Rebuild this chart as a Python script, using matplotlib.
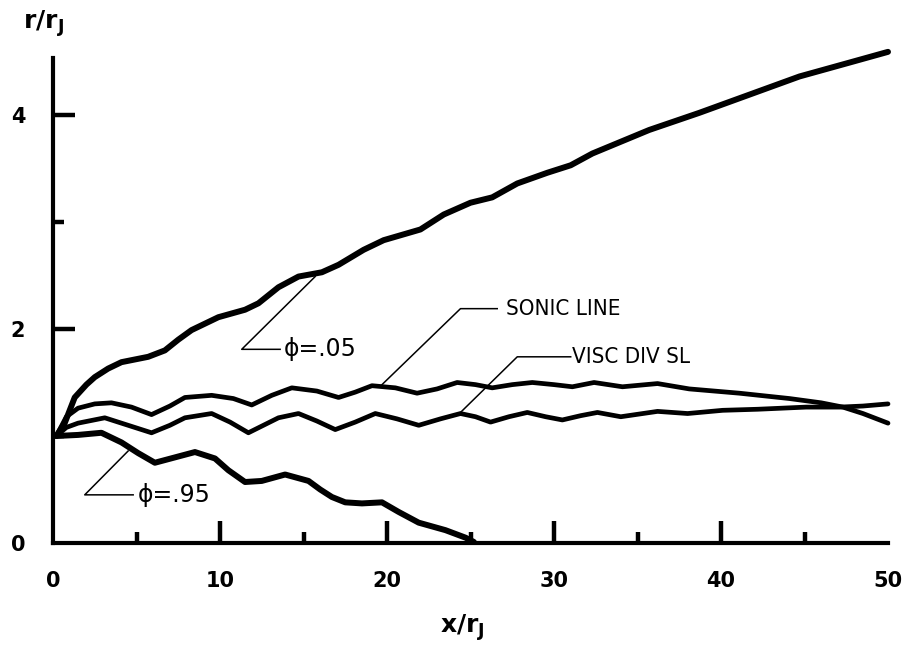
import matplotlib
matplotlib.use("Agg")
import matplotlib.pyplot as plt
from matplotlib.ticker import FixedLocator

# ---- data ----
phi05_x = [0.2, 0.7, 1.3, 2.0, 2.5, 3.3, 4.1, 5.7, 6.7, 7.5, 8.3, 9.9, 11.5, 12.3, 13.5, 14.7,
           16.1, 17.1, 18.6, 19.8, 22.0, 23.4, 25.0, 26.3, 27.8, 29.6, 31.0, 32.3, 35.7,
           38.7, 41.7, 44.7, 47.7, 50.0]
phi05_y = [1.00, 1.12, 1.36, 1.48, 1.55, 1.63, 1.69, 1.74, 1.80, 1.90, 1.99, 2.11, 2.18, 2.24,
           2.39, 2.49, 2.53, 2.60, 2.74, 2.83, 2.93, 3.07, 3.18, 3.23, 3.36, 3.46, 3.53,
           3.64, 3.86, 4.02, 4.19, 4.36, 4.49, 4.59]

sonic_x = [0.2, 0.8, 1.5, 2.5, 3.5, 4.7, 5.9, 7.0, 7.9, 9.5, 10.8, 11.9, 13.1, 14.3, 15.8,
           17.1, 18.1, 19.1, 20.5, 21.8, 23.0, 24.2, 25.3, 26.3, 27.5, 28.7, 30.0, 31.1,
           32.4, 34.1, 36.2, 38.1, 41.1, 44.1, 46.0, 47.3, 48.5, 50.0]
sonic_y = [1.00, 1.18, 1.26, 1.30, 1.31, 1.27, 1.20, 1.28, 1.36, 1.38, 1.35, 1.29, 1.38,
           1.45, 1.42, 1.36, 1.41, 1.47, 1.45, 1.40, 1.44, 1.50, 1.48, 1.45, 1.48, 1.50,
           1.48, 1.46, 1.50, 1.46, 1.49, 1.44, 1.40, 1.35, 1.31, 1.27, 1.21, 1.12]

visc_x = [0.2, 0.8, 1.5, 3.1, 4.5, 5.9, 7.0, 7.9, 9.5, 10.6, 11.7, 12.6, 13.5, 14.7, 15.8,
          16.9, 18.1, 19.3, 20.6, 21.9, 23.2, 24.4, 25.3, 26.2, 27.3, 28.4, 29.5, 30.5,
          31.6, 32.6, 34.0, 36.2, 38.0, 40.1, 42.2, 45.1, 47.1, 48.5, 50.0]
visc_y = [1.00, 1.08, 1.12, 1.17, 1.10, 1.03, 1.10, 1.17, 1.21, 1.13, 1.03, 1.10, 1.17,
          1.21, 1.14, 1.06, 1.13, 1.21, 1.16, 1.10, 1.16, 1.21, 1.18, 1.13, 1.18, 1.22,
          1.18, 1.15, 1.19, 1.22, 1.18, 1.23, 1.21, 1.24, 1.25, 1.27, 1.27, 1.28, 1.30]

phi95_x = [0.2, 1.5, 2.9, 4.1, 5.1, 6.1, 7.3, 8.5, 9.7, 10.5, 11.5, 12.5, 13.9, 15.3,
           16.0, 16.7, 17.5, 18.5, 19.7, 20.7, 21.9, 23.5, 24.7, 25.2]
phi95_y = [1.00, 1.01, 1.03, 0.94, 0.84, 0.75, 0.80, 0.85, 0.79, 0.68, 0.57, 0.58, 0.64,
           0.58, 0.50, 0.43, 0.38, 0.37, 0.38, 0.29, 0.19, 0.12, 0.05, 0.01]

x_major = [0, 10, 20, 30, 40, 50]
x_labels = ["0", "10", "20", "30", "40", "50"]
x_minor = [5, 15, 25, 35, 45]
y_major = [0, 2, 4]
y_labels = ["0", "2", "4"]
y_minor = [1, 3]

fig = plt.figure(figsize=(9.09, 6.48), dpi=100)
ax = fig.add_axes([53/909, 105/648, 835/909, 0.7596])
ax.set_xlim(0, 50)
ax.set_ylim(0, 4.6)

style = dict(color="black", solid_capstyle="round", solid_joinstyle="round", clip_on=False)
ax.plot(phi05_x, phi05_y, lw=4.3, **style)
ax.plot(sonic_x, sonic_y, lw=3.4, **style)
ax.plot(visc_x, visc_y, lw=3.4, **style)
ax.plot(phi95_x, phi95_y, lw=4.3, **style)

# spines
for s in ["top", "right"]:
    ax.spines[s].set_visible(False)
ax.spines["left"].set_linewidth(3)
ax.spines["bottom"].set_linewidth(3)
ax.spines["left"].set_bounds(0, 4.53)

ax.xaxis.set_major_locator(FixedLocator(x_major))
ax.set_xticklabels(x_labels)
ax.xaxis.set_minor_locator(FixedLocator(x_minor))
ax.yaxis.set_major_locator(FixedLocator(y_major))
ax.set_yticklabels(y_labels)
ax.yaxis.set_minor_locator(FixedLocator(y_minor))

ax.tick_params(axis="x", which="major", direction="in", length=16, width=3.2, pad=20,
               labelsize=15, color="black")
ax.tick_params(axis="y", which="major", direction="in", length=16, width=3.2, pad=20,
               labelsize=15, color="black")
ax.tick_params(axis="both", which="minor", direction="in", length=8, width=3.2, color="black")
for lab in ax.get_xticklabels() + ax.get_yticklabels():
    lab.set_fontweight("bold")
for t in ax.xaxis.get_major_ticks():
    if t.get_loc() in (0, 50):
        t.tick1line.set_visible(False)
for t in ax.yaxis.get_major_ticks():
    if t.get_loc() == 0:
        t.tick1line.set_visible(False)

lk = dict(color="black", lw=1.1, clip_on=False)
# phi = .05 annotation
ax.plot([15.7, 11.3, 13.6], [2.49, 1.81, 1.81], **lk)
ax.text(13.8, 1.81, "\u03d5=.05", fontsize=17, va="center", ha="left")
# phi = .95 annotation
ax.plot([4.5, 1.9, 4.8], [0.86, 0.45, 0.45], **lk)
ax.text(5.1, 0.45, "\u03d5=.95", fontsize=17, va="center", ha="left")
# sonic line
ax.plot([19.7, 24.4, 26.6], [1.48, 2.19, 2.19], **lk)
ax.text(27.1, 2.19, "SONIC LINE", fontsize=16, va="center", ha="left", fontstretch="condensed")
# visc div sl
ax.plot([24.4, 27.8, 31.0], [1.22, 1.74, 1.74], **lk)
ax.text(31.1, 1.74, "VISC DIV SL", fontsize=16, va="center", ha="left", fontstretch="condensed")

fig.text(23/909, 1 - 29/648, r"r/r$_{\mathregular{J}}$", fontsize=18, fontweight="bold",
         ha="left", va="baseline")
fig.text(462/909, 1 - 633/648, r"x/r$_{\mathregular{J}}$", fontsize=18, fontweight="bold",
         ha="center", va="baseline")

fig.savefig("out.png", dpi=100)
